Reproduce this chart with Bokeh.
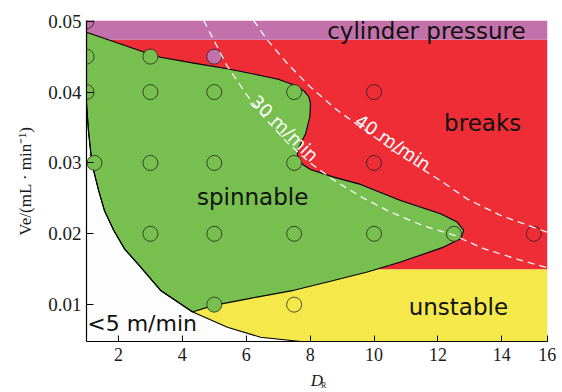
from bokeh.plotting import figure
from bokeh.models import Range1d, FixedTicker, ColumnDataSource, LinearAxis, Title
from bokeh.embed import file_html
from bokeh.resources import INLINE
from bokeh.core.properties import value

# ---------------- data ----------------
x_ticks = [2, 4, 6, 8, 10, 12, 14, 15.42]
x_tick_labels = ["2", "4", "6", "8", "10", "12", "14", "16"]
y_ticks = [0.01, 0.02, 0.03, 0.04, 0.05]
y_tick_labels = ["0.01", "0.02", "0.03", "0.04", "0.05"]
x_title = "D"
x_title_sub = "R"
y_title = "Ve/(mL · min⁻¹)"

# horizontal zones (bottom, top) : unstable, breaks, cylinder pressure
zone_names = ["unstable", "breaks", "cylinder pressure"]
zone_bottom = [0.0048, 0.015, 0.0474]
zone_top = [0.015, 0.0474, 0.0501]
zone_colors = ["#F4E84B", "#EE2D37", "#C271AA"]

# <5 m/min boundary curve
curve5_d = [1.0, 1.06, 1.17, 1.38, 1.56, 1.85, 2.2, 2.6, 3.32, 4.31, 5.41, 6.45, 7.7]
curve5_v = [0.0384, 0.0346, 0.0299, 0.0261, 0.0233, 0.0205, 0.0178, 0.0158, 0.0120,
            0.0090, 0.0068, 0.0054, 0.0048]

# spinnable region boundary (top edge, nose, lower edge)
green_d = [1.0, 1.75, 2.95, 3.32, 4.36, 5.40, 6.45, 7.0, 7.39, 7.62, 7.82, 7.96, 8.01,
           7.99, 7.86, 7.65, 7.60, 7.64, 7.78, 8.01, 8.74, 9.58, 10.83, 12.08, 12.60,
           12.81, 12.71, 12.18, 10.83, 9.79, 8.64, 7.49, 6.13, 4.98, 4.31]
green_v = [0.04845, 0.04729, 0.04540, 0.04492, 0.04408, 0.04329, 0.04234, 0.04180, 0.04117,
           0.04075, 0.04010, 0.03930, 0.03840, 0.03646, 0.03412, 0.03223, 0.03120, 0.03040,
           0.02975, 0.02908, 0.02800, 0.02697, 0.02471, 0.02283, 0.02165, 0.02048, 0.01931,
           0.01812, 0.01601, 0.01460, 0.01329, 0.01202, 0.01089, 0.00990, 0.00896]

# constant take-up speed curves
d30 = [4.67, 5.0, 5.4, 6.0, 6.6, 7.3, 8.0, 8.7, 9.6, 10.5, 11.5, 12.5, 13.43, 14.5, 15.43]
v30 = [0.0501, 0.0472, 0.0437, 0.0397, 0.0362, 0.0328, 0.0300, 0.0277, 0.0252, 0.0231,
       0.0212, 0.0198, 0.0179, 0.0164, 0.0152]
d40 = [6.23, 6.67, 7.29, 8.01, 8.86, 9.73, 10.67, 12.08, 12.92, 13.96, 15.43]
v40 = [0.0501, 0.0473, 0.0440, 0.0407, 0.0374, 0.0346, 0.0315, 0.0275, 0.0249, 0.0226,
       0.0202]

# experimental points and outcomes
pt_d = [1, 1, 3, 5, 1, 3, 5, 7.5, 10, 1.25, 3, 5, 7.5, 10, 3, 5, 7.5, 10, 12.5, 15, 5, 7.5]
pt_v = [0.05, 0.045, 0.045, 0.045, 0.04, 0.04, 0.04, 0.04, 0.04, 0.03, 0.03, 0.03, 0.03,
        0.03, 0.02, 0.02, 0.02, 0.02, 0.02, 0.02, 0.01, 0.01]
pt_outcome = ["pressure", "spinnable", "spinnable", "pressure",
              "spinnable", "spinnable", "spinnable", "spinnable", "breaks",
              "spinnable", "spinnable", "spinnable", "spinnable", "breaks",
              "spinnable", "spinnable", "spinnable", "spinnable", "spinnable", "breaks",
              "spinnable", "unstable"]

region_text = ["cylinder pressure", "breaks", "spinnable", "unstable"]
region_d = [11.64, 13.4, 6.2, 12.64]
region_v = [0.04756, 0.03458, 0.02425, 0.00873]
slow_text = ["<5 m/min"]
slow_d = [2.74]
slow_v = [0.00638]

speed_text = ["30 m/min", "40 m/min"]
speed_d = [7.2, 10.59]
speed_v = [0.0349, 0.0329]
speed_angle = [-0.768, -0.588]

GREEN = "#77BF4E"
BG = "#fdfdfd"
outcome_color = {"pressure": "#C271AA", "spinnable": GREEN, "breaks": "#EE2D37",
                 "unstable": "#F4E84B"}

X0, X1 = 1.0, 15.43
Y0, Y1 = 0.0048, 0.0501

p = figure(width=562, height=392, x_range=Range1d(X0, X1), y_range=Range1d(Y0, Y1),
           output_backend="svg", toolbar_location=None,
           min_border_left=86, min_border_right=15, min_border_top=20, min_border_bottom=51)
p.background_fill_color = BG
p.border_fill_color = "white"
p.outline_line_color = None
p.grid.visible = False

# zones
zsrc = ColumnDataSource(dict(left=[X0] * 3, right=[X1] * 3, bottom=zone_bottom,
                             top=zone_top, color=zone_colors, name=zone_names))
p.quad(left="left", right="right", bottom="bottom", top="top", fill_color="color",
       line_color=None, source=zsrc)

# white region below <5 m/min curve
p.patch(curve5_d + [X0], curve5_v + [Y0], fill_color=BG, line_color=None)

# spinnable region
gd = green_d + curve5_d[:10][::-1]
gv = green_v + curve5_v[:10][::-1]
p.patch(gd, gv, fill_color=GREEN, line_color="black", line_width=1.1)
p.line(curve5_d, curve5_v, line_color="black", line_width=1.1)

# points
psrc = ColumnDataSource(dict(d=pt_d, v=pt_v, c=[outcome_color[o] for o in pt_outcome]))
p.scatter("d", "v", source=psrc, marker="circle", size=15, fill_color="c",
          line_color="#1e1e1e", line_alpha=0.75, line_width=1)

# dashed speed curves
p.line(d30, v30, line_color="white", line_width=1.3, line_dash="7 5", line_alpha=0.95)
p.line(d40, v40, line_color="white", line_width=1.3, line_dash="7 5", line_alpha=0.95)

p.text(x=speed_d, y=speed_v, text=speed_text, angle=speed_angle, text_color="white",
       text_font=value("DejaVu Sans"), text_font_size="18px", text_align="center",
       text_baseline="middle")

p.text(x=region_d, y=region_v, text=region_text, text_color="#111111",
       text_font=value("DejaVu Sans"), text_font_size="23px", text_align="center",
       text_baseline="alphabetic", y_offset=-7)
p.text(x=slow_d, y=slow_v, text=slow_text, text_color="#111111",
       text_font=value("DejaVu Sans"), text_font_size="22px", text_align="center",
       text_baseline="alphabetic", y_offset=-7)

# main axes
for ax in (p.xaxis[0], p.yaxis[0]):
    ax.axis_line_color = "black"
    ax.axis_line_width = 1.2
    ax.major_tick_line_color = "black"
    ax.major_tick_out = 0
    ax.minor_tick_line_color = None
    ax.major_label_text_font = "Liberation Serif"
    ax.major_label_text_color = "#1a1a1a"

p.xaxis[0].ticker = FixedTicker(ticks=x_ticks)
p.xaxis[0].major_label_overrides = {t: l for t, l in zip(x_ticks, x_tick_labels)}
p.xaxis[0].major_tick_in = 6
p.xaxis[0].major_label_text_font_size = "18px"
p.xaxis[0].major_label_standoff = 6

p.yaxis[0].ticker = FixedTicker(ticks=y_ticks)
p.yaxis[0].major_label_overrides = {t: l for t, l in zip(y_ticks, y_tick_labels)}
p.yaxis[0].major_tick_in = 7
p.yaxis[0].major_label_text_font_size = "19px"
p.yaxis[0].major_label_standoff = 5

# y title as a side title (offset upwards like the original)
p.add_layout(Title(text=y_title, align="center", offset=34, standoff=21,
                   text_font="Liberation Serif", text_font_size="17px",
                   text_font_style="normal", text_color="#1a1a1a"), "left")

# x title D with subscript R on an outer axis
xsub_ticks = [8.42]
xtitle_axis = LinearAxis(ticker=FixedTicker(ticks=xsub_ticks),
                         major_label_overrides={xsub_ticks[0]: x_title_sub},
                         major_label_text_font="Liberation Serif",
                         major_label_text_font_size="8px", major_label_standoff=11,
                         major_label_text_color="#1a1a1a",
                         axis_label=x_title, axis_line_color=None,
                         major_tick_line_color=None, minor_tick_line_color=None,
                         axis_label_standoff=-22, axis_label_text_font="Liberation Serif",
                         axis_label_text_font_size="17px",
                         axis_label_text_font_style="italic",
                         axis_label_text_color="#1a1a1a")
p.add_layout(xtitle_axis, "below")

open("out.html", "w").write(file_html(p, INLINE))
